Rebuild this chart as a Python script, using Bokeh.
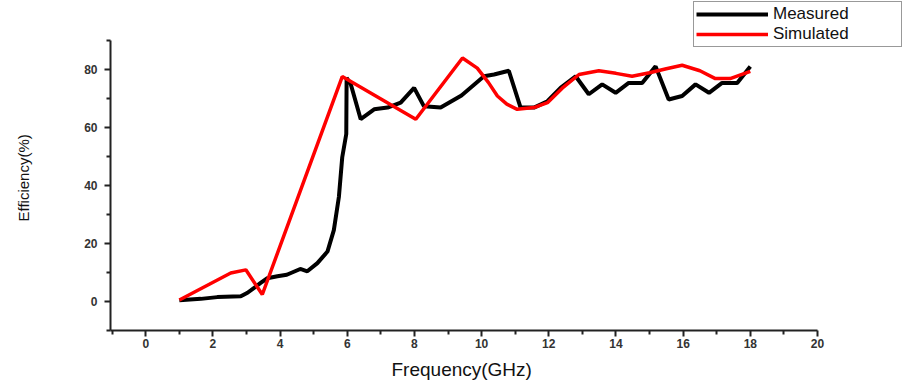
from bokeh.plotting import figure
from bokeh.models import Range1d, FixedTicker, Legend, LegendItem, Title
from bokeh.embed import file_html
from bokeh.resources import INLINE

# Measured efficiency
meas_f = [1.0, 1.64, 2.13, 2.83, 3.03, 3.42, 3.62, 3.92, 4.2, 4.6, 4.81, 5.11, 5.41,
          5.6, 5.75, 5.85, 5.97, 5.98, 6.1, 6.4, 6.8, 7.2, 7.59, 7.99, 8.28, 8.78,
          9.4, 10.07, 10.37, 10.81, 11.16, 11.56, 11.96, 12.35, 12.8, 13.19, 13.59,
          13.99, 14.38, 14.78, 15.18, 15.57, 15.97, 16.37, 16.77, 17.16, 17.61, 18.0]
meas_e = [0.4, 0.9, 1.5, 1.8, 3.0, 6.4, 8.0, 8.7, 9.2, 11.2, 10.4, 13.2, 17.2,
          24.6, 36.0, 49.7, 57.7, 77.0, 75.0, 62.8, 66.2, 66.8, 68.5, 73.6, 67.3, 66.8,
          71.0, 77.6, 78.2, 79.5, 66.8, 66.8, 69.0, 73.6, 77.6, 71.4, 74.8,
          71.9, 75.3, 75.3, 81.0, 69.6, 70.8, 74.8, 71.9, 75.3, 75.3, 81.0]

# Simulated efficiency
sim_f = [1.0, 2.53, 2.98, 3.47, 5.85, 8.04, 9.43, 9.87, 10.2, 10.47, 10.75, 11.06,
         11.56, 11.96, 12.4, 12.9, 13.49, 14.0, 14.48, 15.0, 15.5, 15.97, 16.5,
         16.96, 17.4, 18.0]
sim_e = [0.5, 9.8, 10.9, 2.4, 77.5, 62.8, 83.9, 80.4, 75.5, 70.8, 68.0, 66.2,
         66.8, 68.5, 73.5, 78.2, 79.5, 78.6, 77.6, 78.8, 80.2, 81.4, 79.5,
         76.8, 76.8, 79.3]

x_major = [0, 2, 4, 6, 8, 10, 12, 14, 16, 18, 20]
x_minor = [-1, 1, 3, 5, 7, 9, 11, 13, 15, 17, 19]
y_major = [0, 20, 40, 60, 80]
y_minor = [-10, 10, 30, 50, 70, 90]

# frame extends past the axis ends so the legend box (top right) is not clipped
p = figure(width=911, height=381, output_backend="svg", toolbar_location=None,
           x_range=Range1d(-1.05, 22.74), y_range=Range1d(-10, 103.7),
           min_border_left=110, min_border_right=2, min_border_top=0,
           min_border_bottom=50)
p.outline_line_color = None
p.xgrid.visible = False
p.ygrid.visible = False
p.background_fill_color = "white"
p.border_fill_color = "white"

r_meas = p.line(meas_f, meas_e, line_color="black", line_width=4)
r_sim = p.line(sim_f, sim_e, line_color="#ff0000", line_width=3.5)

for ax in (p.xaxis[0], p.yaxis[0]):
    ax.axis_line_width = 2
    ax.axis_line_color = "#222222"
    ax.major_tick_line_width = 2
    ax.major_tick_line_color = "#222222"
    ax.minor_tick_line_width = 2
    ax.minor_tick_line_color = "#222222"
    ax.major_tick_in = 0
    ax.major_tick_out = 6
    ax.minor_tick_in = 0
    ax.minor_tick_out = 4
    ax.major_label_text_font = "Liberation Sans"
    ax.major_label_text_font_size = "12px"
    ax.major_label_text_font_style = "bold"
    ax.major_label_text_color = "#333333"

p.xaxis[0].bounds = (-1.05, 20)
p.yaxis[0].bounds = (-10, 90)
p.xaxis[0].ticker = FixedTicker(ticks=x_major, minor_ticks=x_minor)
p.yaxis[0].ticker = FixedTicker(ticks=y_major, minor_ticks=y_minor)
p.xaxis[0].major_label_standoff = 2
p.yaxis[0].major_label_standoff = 7
# spacers so the axis titles sit where the reference has them
p.yaxis[0].axis_label = " "
p.yaxis[0].axis_label_text_font_size = "15px"
p.yaxis[0].axis_label_standoff = 30
p.xaxis[0].axis_label = " "
p.xaxis[0].axis_label_text_font_size = "1px"
p.xaxis[0].axis_label_standoff = 4

x_title = Title(text="Frequency(GHz)", align="left", offset=281, vertical_align="top",
                standoff=0, text_font="Liberation Sans", text_font_size="19px",
                text_font_style="normal", text_color="#111111")
p.add_layout(x_title, "below")

y_title = Title(text="Efficiency(%)", align="left", offset=109, vertical_align="bottom",
                standoff=0, text_font="Liberation Sans", text_font_size="15px",
                text_font_style="normal", text_color="#111111")
p.add_layout(y_title, "left")

legend = Legend(items=[LegendItem(label="Measured", renderers=[r_meas]),
                       LegendItem(label="Simulated", renderers=[r_sim])],
                location=(583, 283), orientation="vertical",
                glyph_width=72, glyph_height=18, label_height=18, label_width=126,
                label_standoff=5, padding=2, spacing=0, margin=0,
                label_text_font="Liberation Sans", label_text_font_size="17px",
                label_text_color="#111111",
                border_line_color="#333333", border_line_width=1,
                background_fill_color="white", background_fill_alpha=1.0)
p.add_layout(legend, "center")

open("out.html", "w").write(file_html(p, INLINE))
